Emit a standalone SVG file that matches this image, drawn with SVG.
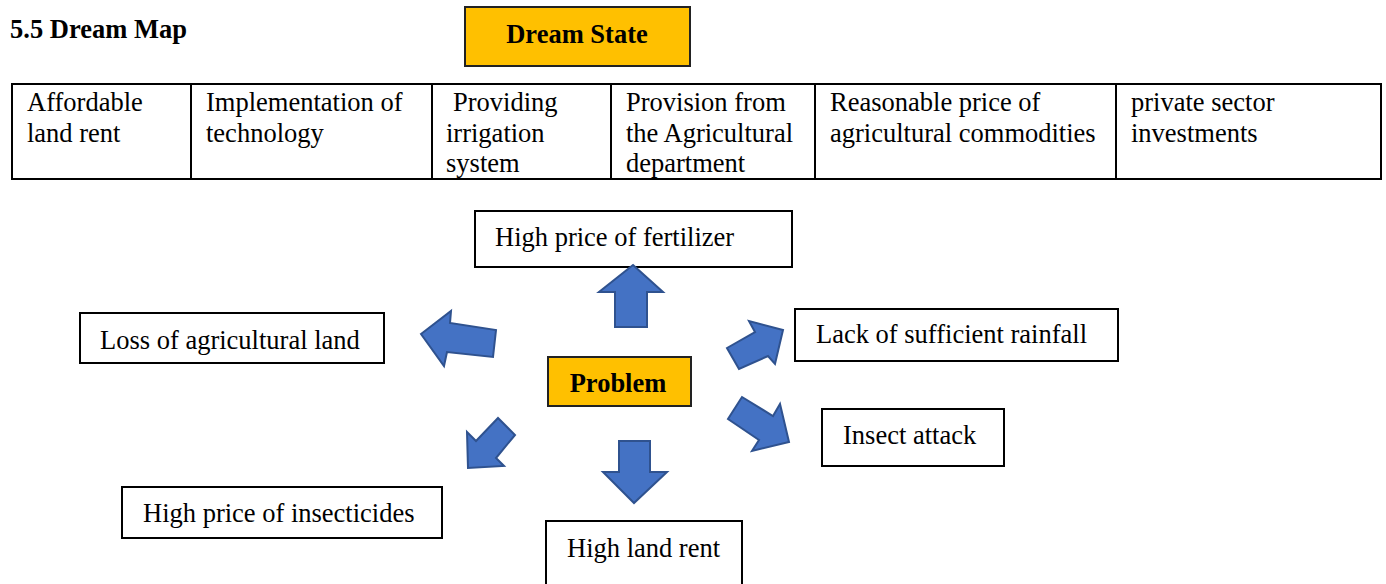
<svg xmlns="http://www.w3.org/2000/svg" width="1386" height="584" viewBox="0 0 1386 584">
<style>
.t{font-family:"Liberation Serif","Times New Roman",serif;font-size:26.5px;fill:#000}
.b{font-weight:bold}
.box{fill:#fff;stroke:#000;stroke-width:2}
.gold{fill:#FFC000;stroke:#222;stroke-width:2}
.arr{fill:#4472C4;stroke:#2F528F;stroke-width:2;stroke-linejoin:miter}
.tl{stroke:#000;stroke-width:2;fill:none}
</style>
<rect width="1386" height="584" fill="#fff"/>
<text class="t b" x="10" y="38">5.5 Dream Map</text>
<g id="dream-state">
<rect class="gold" x="465" y="7" width="225" height="59"/>
<text class="t b" x="577" y="43" text-anchor="middle">Dream State</text>
</g>
<g id="table">
<rect class="tl" x="12" y="84" width="1369" height="95"/>
<line class="tl" x1="191" y1="84" x2="191" y2="179"/>
<line class="tl" x1="432" y1="84" x2="432" y2="179"/>
<line class="tl" x1="611" y1="84" x2="611" y2="179"/>
<line class="tl" x1="815" y1="84" x2="815" y2="179"/>
<line class="tl" x1="1116" y1="84" x2="1116" y2="179"/>
<text class="t" x="27" y="111">Affordable</text>
<text class="t" x="27" y="142">land rent</text>
<text class="t" x="206" y="111">Implementation of</text>
<text class="t" x="206" y="142">technology</text>
<text class="t" x="453" y="111">Providing</text>
<text class="t" x="446" y="142">irrigation</text>
<text class="t" x="446" y="172">system</text>
<text class="t" x="626" y="111">Provision from</text>
<text class="t" x="626" y="142">the Agricultural</text>
<text class="t" x="626" y="172">department</text>
<text class="t" x="830" y="111">Reasonable price of</text>
<text class="t" x="830" y="142">agricultural commodities</text>
<text class="t" x="1131" y="111">private sector</text>
<text class="t" x="1131" y="142">investments</text>
</g>
<g id="fertilizer">
<rect class="box" x="475" y="211" width="317" height="56"/>
<text class="t" x="495" y="246">High price of fertilizer</text>
</g>
<g id="loss-land">
<rect class="box" x="80" y="313" width="304" height="50"/>
<text class="t" x="100" y="349">Loss of agricultural land</text>
</g>
<g id="rainfall">
<rect class="box" x="795" y="309" width="323" height="52"/>
<text class="t" x="816" y="343">Lack of sufficient rainfall</text>
</g>
<g id="problem">
<rect class="gold" x="548" y="357" width="143" height="49"/>
<text class="t b" x="618" y="392" text-anchor="middle">Problem</text>
</g>
<g id="insect">
<rect class="box" x="822" y="409" width="182" height="57"/>
<text class="t" x="843" y="444">Insect attack</text>
</g>
<g id="insecticides">
<rect class="box" x="122" y="487" width="320" height="51"/>
<text class="t" x="143" y="522">High price of insecticides</text>
</g>
<g id="land-rent">
<rect class="box" x="546" y="521" width="196" height="66"/>
<text class="t" x="567" y="557">High land rent</text>
</g>
<g id="connectors">
<polygon class="arr" points="633,265 663,292 647,292 647,327 615,327 615,292 599,292"/>
<polygon class="arr" points="421,334 451,311 450,323 496,330 493,357 447,352 444,366"/>
<polygon class="arr" points="727,348 755,332 749,321 783,330 775,364 768,356 739,369"/>
<polygon class="arr" points="742,397 773,416 780,404 789,442 752,451 759,440 728,419"/>
<polygon class="arr" points="619,441 650,441 650,472 667,472 634,503 603,472 619,472"/>
<polygon class="arr" points="468,468 467,432 476,441 498,418 515,435 496,458 504,466"/>
</g>
</svg>
